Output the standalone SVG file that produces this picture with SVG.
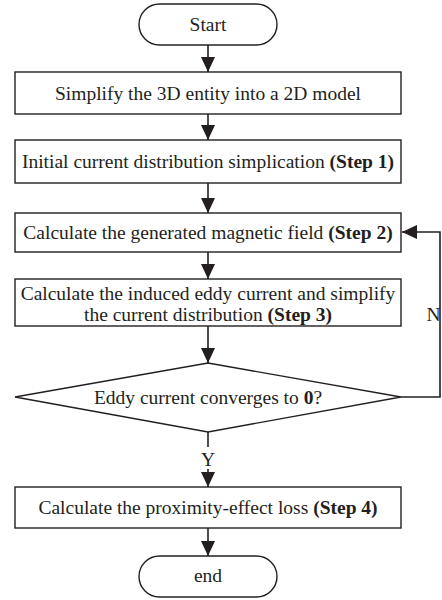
<svg xmlns="http://www.w3.org/2000/svg" width="442" height="600" viewBox="0 0 442 600">
<defs>
<style>
.box{fill:#fff;stroke:#231f20;stroke-width:1.4}
.t{font-family:'Liberation Serif','DejaVu Serif',serif;font-size:19.5px;fill:#231f20;text-anchor:middle}
.b{font-weight:bold}
.c{fill:none;stroke:#231f20;stroke-width:1.6}
</style>
<marker id="ah" markerUnits="userSpaceOnUse" markerWidth="16" markerHeight="14" viewBox="0 0 16 14" refX="15" refY="7" orient="auto">
<path d="M0,0 L15,7 L0,14 Z" fill="#231f20"/>
</marker>
</defs>
<rect width="442" height="600" fill="#fff"/>
<g id="connectors">
<line class="c" x1="208" y1="45" x2="208" y2="72" marker-end="url(#ah)"/>
<line class="c" x1="208" y1="114" x2="208" y2="140" marker-end="url(#ah)"/>
<line class="c" x1="208" y1="183" x2="208" y2="213" marker-end="url(#ah)"/>
<line class="c" x1="208" y1="252" x2="208" y2="279" marker-end="url(#ah)"/>
<line class="c" x1="208" y1="326" x2="208" y2="363" marker-end="url(#ah)"/>
<line class="c" x1="208" y1="432" x2="208" y2="447"/>
<line class="c" x1="208" y1="469" x2="208" y2="487" marker-end="url(#ah)"/>
<line class="c" x1="208" y1="528" x2="208" y2="556" marker-end="url(#ah)"/>
<polyline class="c" points="401,397 440,397 440,232 402,232" marker-end="url(#ah)"/>
<text class="t" x="208" y="466" font-family="Liberation Serif">Y</text>
<text class="t" x="440.5" y="321" style="text-anchor:end" font-family="Liberation Serif">N</text>
</g>
<g id="start">
<rect class="box" x="139" y="4" width="138" height="41" rx="20.5"/>
<text class="t" x="208" y="31" font-family="Liberation Serif">Start</text>
</g>
<g id="step0">
<rect class="box" x="15" y="72" width="386" height="42"/>
<text class="t" x="208" y="99.5" font-family="Liberation Serif">Simplify the 3D entity into a 2D model</text>
</g>
<g id="step1">
<rect class="box" x="15" y="140" width="386" height="43"/>
<text class="t" x="208" y="167.5" font-family="Liberation Serif">Initial current distribution simplication <tspan class="b">(Step 1)</tspan></text>
</g>
<g id="step2">
<rect class="box" x="15" y="213" width="386" height="39"/>
<text class="t" x="208" y="238.5" font-family="Liberation Serif">Calculate the generated magnetic field <tspan class="b">(Step 2)</tspan></text>
</g>
<g id="step3">
<rect class="box" x="15" y="279" width="386" height="47"/>
<text class="t" x="208" y="299.5" font-family="Liberation Serif">Calculate the induced eddy current and simplify</text>
<text class="t" x="208" y="320.5" font-family="Liberation Serif">the current distribution <tspan class="b">(Step 3)</tspan></text>
</g>
<g id="decision">
<polygon class="box" points="208,363 401,397 208,432 15,397"/>
<text class="t" x="208" y="403.5" font-family="Liberation Serif">Eddy current converges to <tspan class="b">0</tspan>?</text>
</g>
<g id="step4">
<rect class="box" x="15" y="487" width="386" height="41"/>
<text class="t" x="208" y="513.5" font-family="Liberation Serif">Calculate the proximity-effect loss <tspan class="b">(Step 4)</tspan></text>
</g>
<g id="end">
<rect class="box" x="139" y="556" width="138" height="41" rx="20.5"/>
<text class="t" x="208" y="582" font-family="Liberation Serif">end</text>
</g>
</svg>
